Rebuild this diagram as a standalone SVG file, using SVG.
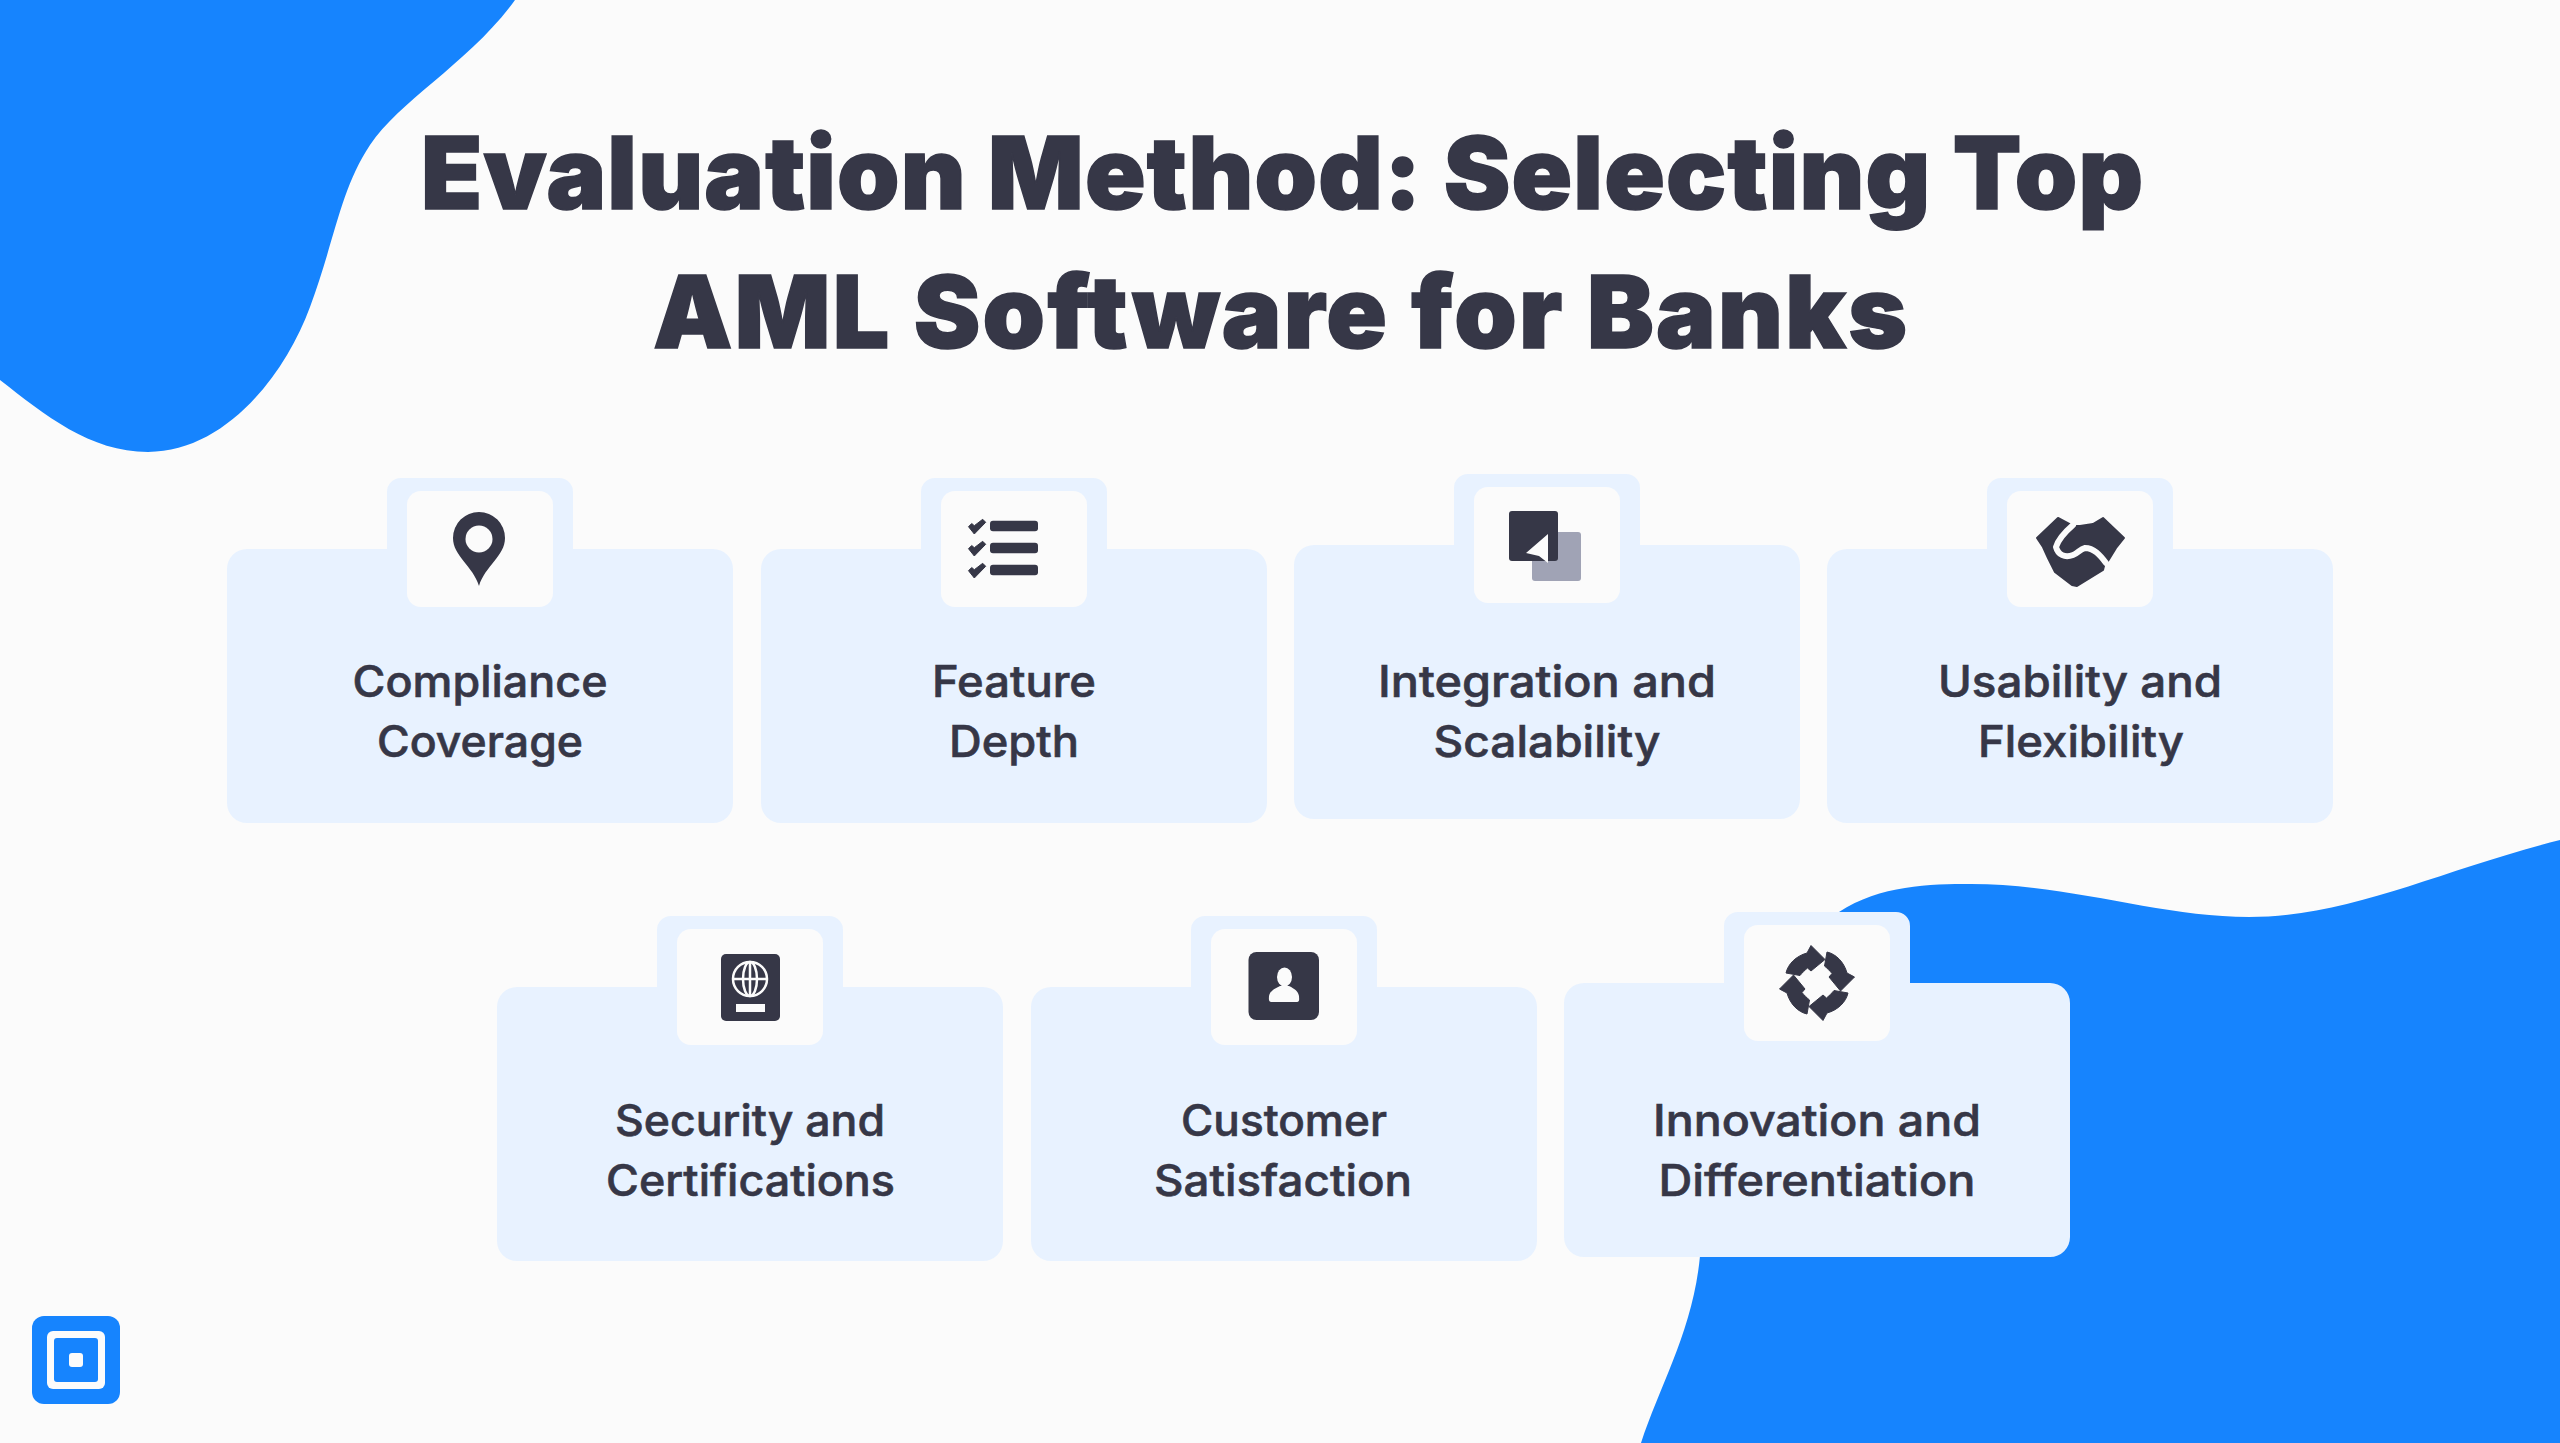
<svg xmlns="http://www.w3.org/2000/svg" width="2560" height="1443" viewBox="0 0 2560 1443">
<style>
.bg{fill:#fbfbfb}.blue{fill:#1684fe}.card{fill:#e8f2ff}.inner{fill:#fbfbfb}.dark{fill:#363747}.hole{fill:#fbfbfb}
.title{font-family:Inter,"Liberation Sans",sans-serif;font-weight:900;font-size:100px;fill:#363747;stroke:#363747;stroke-width:1.5;text-anchor:middle}
.label{font-family:Inter,"Liberation Sans",sans-serif;font-weight:500;font-size:44px;fill:#363747;stroke:#363747;stroke-width:.6;text-anchor:middle}
.thin{fill:none;stroke:#fbfbfb;stroke-width:2.5}
</style>
<defs>
<g id="cardShape">
<path class="card" d="M20 0H160V-57A14 14 0 0 1 174 -71H332A14 14 0 0 1 346 -57V0H486A20 20 0 0 1 506 20V254A20 20 0 0 1 486 274H20A20 20 0 0 1 0 254V20A20 20 0 0 1 20 0Z"/>
<rect class="inner" x="180" y="-58" width="146" height="116" rx="14"/>
</g>
<path id="check" stroke="#363747" stroke-width="1" stroke-linejoin="round" d="M968.500 526.700L971.700 523.500 974.300 525.700 982.700 519.300 985.700 522.300 974.300 534Z"/>
<path id="arrow" stroke="#363747" stroke-width="1" stroke-linejoin="round" d="M-31-10C-29-19-21-27-10-30L-6-37.500 8-23.500-6-12-9.500-15C-12-13-15-10-17-7.500Z"/>
</defs>
<rect class="bg" width="2560" height="1443"/>
<g id="blobs">
<path class="blue" d="M0 0H515C470 62 400 100 370 145C340 190 335 240 310 307C285 375 225 452 148 452C90 452 45 415 0 380Z"/>
<path class="blue" d="M1839 912C1880 885 1930 884 1971 884C2070 884 2160 917 2249 917C2350 917 2440 870 2560 840V1443H1641C1660 1385 1693 1330 1700 1256Z"/>
</g>
<g id="title">
<text class="title" x="1282" y="209" textLength="1722" lengthAdjust="spacing">Evaluation Method: Selecting Top</text>
<text class="title" x="1280" y="348" textLength="1254" lengthAdjust="spacing">AML Software for Banks</text>
</g>
<g id="node-compliance">
<use href="#cardShape" transform="translate(227 549)"/>
<path class="dark" d="M479 586C473 566 453 556 453 538A26 26 0 0 1 505 538C505 556 485 566 479 586Z"/>
<circle class="hole" cx="479" cy="539" r="13.500"/>
<text class="label" x="480" y="697" textLength="255" lengthAdjust="spacingAndGlyphs">Compliance</text>
<text class="label" x="480" y="757" textLength="206" lengthAdjust="spacingAndGlyphs">Coverage</text>
</g>
<g id="node-feature">
<use href="#cardShape" transform="translate(761 549)"/>
<rect class="dark" x="990" y="520.700" width="48" height="10.500" rx="3"/>
<rect class="dark" x="990" y="542.700" width="48" height="10.500" rx="3"/>
<rect class="dark" x="990" y="564.700" width="48" height="10.500" rx="3"/>
<use class="dark" href="#check"/>
<use class="dark" href="#check" y="22"/>
<use class="dark" href="#check" y="44"/>
<text class="label" x="1014" y="697" textLength="164" lengthAdjust="spacingAndGlyphs">Feature</text>
<text class="label" x="1014" y="757" textLength="130" lengthAdjust="spacingAndGlyphs">Depth</text>
</g>
<g id="node-integration">
<use href="#cardShape" transform="translate(1294 545)"/>
<rect x="1532" y="532" width="49" height="49" rx="3" fill="#a0a3b5"/>
<rect class="dark" x="1509" y="511" width="49" height="50" rx="3"/>
<path fill="#fbfbfb" d="M1548 534L1526 553 1539 556 1548 563Z"/>
<text class="label" x="1547" y="697" textLength="338" lengthAdjust="spacingAndGlyphs">Integration and</text>
<text class="label" x="1547" y="757" textLength="227" lengthAdjust="spacingAndGlyphs">Scalability</text>
</g>
<g id="node-usability">
<use href="#cardShape" transform="translate(1827 549)"/>
<path class="dark" stroke="#363747" stroke-width="2" stroke-linejoin="round" d="M2037 538L2058 518 2073 526 2080 526 2093 524 2103 518 2124 538 2116 548 2108 561 2104 557 2104 566 2103 570 2077 586 2072 585 2055 572 2048 558 2043 547Z"/>
<path fill="none" stroke="#fbfbfb" stroke-width="6" stroke-linecap="round" stroke-linejoin="round" d="M2073 525C2065 532 2058 540 2056 547C2058 555 2065 558 2073 555C2078 553 2080 549 2085 548C2094 548 2100 555 2106 563"/>
<text class="label" x="2080" y="697" textLength="284" lengthAdjust="spacingAndGlyphs">Usability and</text>
<text class="label" x="2081" y="757" textLength="206" lengthAdjust="spacingAndGlyphs">Flexibility</text>
</g>
<g id="node-security">
<use href="#cardShape" transform="translate(497 987)"/>
<rect class="dark" x="721" y="954" width="59" height="67" rx="5"/>
<circle class="thin" cx="750" cy="979" r="17"/>
<ellipse class="thin" cx="750" cy="979" rx="7" ry="17"/>
<path class="thin" d="M750 962V996M733 979H767"/>
<rect x="736" y="1004" width="29" height="8" fill="#fbfbfb"/>
<text class="label" x="750" y="1136" textLength="270" lengthAdjust="spacingAndGlyphs">Security and</text>
<text class="label" x="750.500" y="1196" textLength="289" lengthAdjust="spacingAndGlyphs">Certifications</text>
</g>
<g id="node-customer">
<use href="#cardShape" transform="translate(1031 987)"/>
<rect class="dark" x="1248.500" y="952" width="70.500" height="68" rx="8"/>
<ellipse cx="1284.500" cy="977" rx="7.500" ry="9.500" fill="#fbfbfb"/>
<path fill="#fbfbfb" d="M1272 1002C1268 1002 1269 998 1269 996C1270 991 1274 989 1280 986L1289 986C1295 989 1298 991 1299 996C1299 998 1300 1002 1297 1002Z"/>
<text class="label" x="1284" y="1136" textLength="206" lengthAdjust="spacingAndGlyphs">Customer</text>
<text class="label" x="1283" y="1196" textLength="258" lengthAdjust="spacingAndGlyphs">Satisfaction</text>
</g>
<g id="node-innovation">
<use href="#cardShape" transform="translate(1564 983)"/>
<g transform="translate(1817 983)">
<use class="dark" href="#arrow"/>
<use class="dark" href="#arrow" transform="rotate(90)"/>
<use class="dark" href="#arrow" transform="rotate(180)"/>
<use class="dark" href="#arrow" transform="rotate(270)"/>
</g>
<text class="label" x="1817" y="1136" textLength="328" lengthAdjust="spacingAndGlyphs">Innovation and</text>
<text class="label" x="1817" y="1196" textLength="317" lengthAdjust="spacingAndGlyphs">Differentiation</text>
</g>
<g id="logo">
<rect class="blue" x="32" y="1316" width="88" height="88" rx="12"/>
<rect x="47" y="1331" width="58" height="58" rx="6" fill="#fbfbfb"/>
<rect class="blue" x="54" y="1338" width="44" height="44" rx="3"/>
<rect x="69" y="1353" width="14" height="14" rx="3" fill="#fbfbfb"/>
</g>
<g id="connectors"/>
</svg>
